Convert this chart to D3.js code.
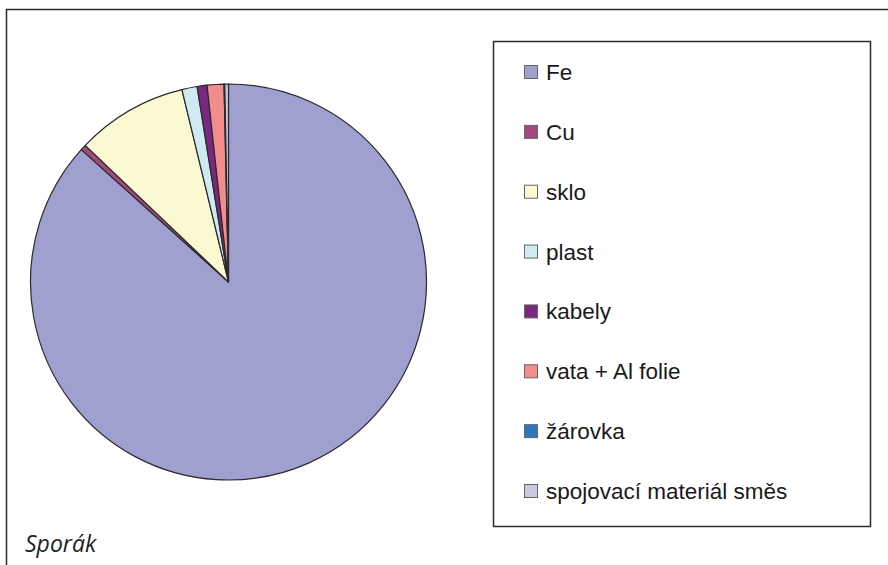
<!DOCTYPE html>
<html>
<head>
<meta charset="utf-8">
<script src="https://cdn.jsdelivr.net/npm/d3@7"></script>
<style>
  body { margin: 0; background: #fff; }
  svg { display: block; }
</style>
</head>
<body>
<script>
// Chart data
const categories = ['Fe', 'Cu', 'sklo', 'plast', 'kabely', 'vata + Al folie', 'žárovka', 'spojovací materiál směs'];
const shares = [86.7, 0.47, 9.1, 1.24, 0.81, 1.37, 0.06, 0.3];
const colors = ['#9f9fd0', '#a3497c', '#fbf9d2', '#cfeaf1', '#7b2782', '#f38d8d', '#2b78bf', '#c9c9e7'];
const title = 'Sporák';

const width = 888, height = 565;

const svg = d3.select('body').append('svg')
    .attr('width', width)
    .attr('height', height);

// Outer frame (only left and top edges are visible in the picture)
svg.append('path')
    .attr('d', `M6.5,${height} V9.5 H${width}`)
    .attr('fill', 'none')
    .attr('stroke', '#2b2b2b')
    .attr('stroke-width', 1.5);

// Pie
const cx = 228.5, cy = 282, r = 198;
const pie = d3.pie().sort(null).value(d => d)(shares);
const arc = d3.arc().innerRadius(0).outerRadius(r);

const color = d3.scaleOrdinal().domain(categories).range(colors);

svg.append('g')
    .attr('transform', `translate(${cx},${cy})`)
    .selectAll('path')
    .data(pie)
    .join('path')
    .attr('d', arc)
    .attr('fill', (d, i) => color(categories[i]))
    .attr('stroke', '#2a2a2a')
    .attr('stroke-width', 1.2)
    .attr('stroke-linejoin', 'round');

// Legend box
svg.append('rect')
    .attr('x', 493.5)
    .attr('y', 41.5)
    .attr('width', 377)
    .attr('height', 485)
    .attr('fill', '#fff')
    .attr('stroke', '#2b2b2b')
    .attr('stroke-width', 1.5);

const legendY = d3.scalePoint()
    .domain(categories)
    .range([72, 491]);

const item = svg.append('g')
    .selectAll('g')
    .data(categories)
    .join('g')
    .attr('transform', d => `translate(524,${legendY(d)})`);

item.append('rect')
    .attr('x', 0.5)
    .attr('y', -6.5)
    .attr('width', 13)
    .attr('height', 13)
    .attr('fill', d => color(d))
    .attr('stroke', '#666')
    .attr('stroke-width', 1);

item.append('text')
    .attr('x', 22)
    .attr('y', 8)
    .attr('font-family', 'Liberation Sans, Arial, sans-serif')
    .attr('font-size', 22.5)
    .attr('fill', '#1a1a1a')
    .text(d => d);

// Caption
svg.append('text')
    .attr('x', 25)
    .attr('y', 552)
    .attr('font-family', 'Open Sans, sans-serif')
    .attr('font-style', 'italic')
    .attr('font-size', 23)
    .attr('fill', '#222')
    .text(title);
</script>
</body>
</html>
